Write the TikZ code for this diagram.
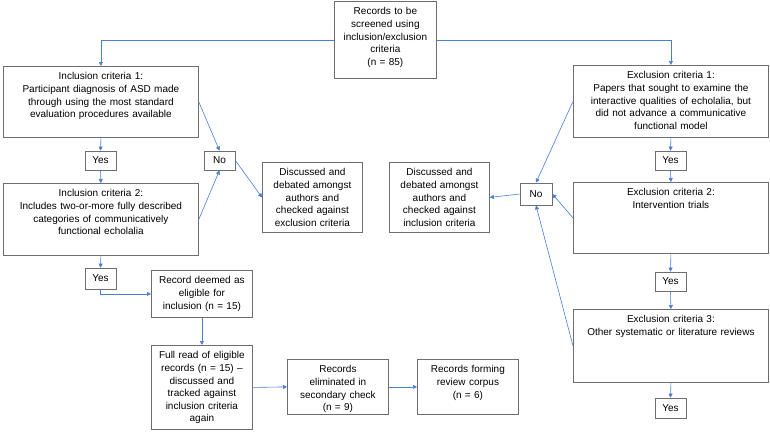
\documentclass[tikz,border=0pt]{standalone}
\usepackage{fontspec}
\setmainfont{Liberation Sans}
\usetikzlibrary{arrows.meta}

\definecolor{flowblue}{HTML}{4A7DD6}
\definecolor{boxgrey}{HTML}{6E6E6E}
\newcommand{\widetext}{189pt}
\newcommand{\smalltext}{95pt}

\begin{document}
\begin{tikzpicture}[x=1pt, y=-1pt,
    font=\fontsize{10}{12.6}\selectfont,
    box/.style={draw=boxgrey, line width=0.8pt, anchor=north west,
      align=center, inner sep=3pt, text height=10.5pt},
    answer/.style={draw=boxgrey, line width=0.8pt, minimum width=31pt,
      minimum height=19pt, inner sep=0pt},
    flow/.style={draw=flowblue, line width=0.6pt,
      -{Triangle[length=4pt,width=4pt]}}]
  \useasboundingbox (0,0) rectangle (770,432);

  % screening
  \node[box, text width=96pt, text depth=60.5pt] (screen) at (334,1)
    {Records to be\\screened using\\inclusion/exclusion\\criteria\\(n = 85)};

  % inclusion side
  \node[box, text width=\widetext, text depth=54.5pt] (inc1) at (3,66)
    {Inclusion criteria 1:\\Participant diagnosis of ASD made\\through using the most standard\\evaluation procedures available};
  \node[answer] (yes1) at (100.5,160.5) {Yes};
  \node[answer] (no1) at (219.5,160.5) {No};
  \node[box, text width=\widetext, text depth=55.5pt] (inc2) at (3,183)
    {Inclusion criteria 2:\\Includes two-or-more fully described\\categories of communicatively\\functional echolalia};
  \node[box, text width=94pt, text depth=53.5pt] (disc1) at (262,162)
    {Discussed and\\debated amongst\\authors and\\checked against\\exclusion criteria};
  \node[answer, minimum height=21pt] (yes2) at (100.5,278.5) {Yes};
  \node[box, text width=\smalltext, text depth=30.5pt] (deemed) at (151,270)
    {Record deemed as\\eligible for\\inclusion (n = 15)};
  \node[box, text width=\smalltext, text depth=67.5pt] (fullread) at (151,345)
    {Full read of eligible\\records (n = 15) –\\discussed and\\tracked against\\inclusion criteria\\again};
  \node[box, text width=\smalltext, text depth=38.5pt] (elim) at (287,359)
    {Records\\eliminated in\\secondary check\\(n = 9)};
  \node[box, text width=\smalltext, text depth=38.5pt] (corpus) at (417,359)
    {Records forming\\review corpus\\(n = 6)};

  % exclusion side
  \node[box, text width=\widetext, text depth=55.5pt] (exc1) at (573,65)
    {Exclusion criteria 1:\\Papers that sought to examine the\\interactive qualities of echolalia, but\\did not advance a communicative\\functional model};
  \node[answer] (yes3) at (670.5,160.5) {Yes};
  \node[box, text width=\widetext, text depth=54.5pt] (exc2) at (573,182)
    {Exclusion criteria 2:\\Intervention trials};
  \node[answer] (yes4) at (670.5,281.5) {Yes};
  \node[box, text width=\widetext, text depth=56.5pt] (exc3) at (573,309)
    {Exclusion criteria 3:\\Other systematic or literature reviews};
  \node[answer, minimum height=20pt] (yes5) at (670.5,408) {Yes};
  \node[answer, minimum width=32pt, minimum height=22pt] (no2) at (536,194) {No};
  \node[box, text width=94pt, text depth=53.5pt] (disc2) at (389,162)
    {Discussed and\\debated amongst\\authors and\\checked against\\inclusion criteria};

  \draw[flow] (screen.west) -| (inc1.north);
  \draw[flow] (screen.east) -| (exc1.north);

  \foreach \from/\to in {inc1/yes1, yes1/inc2, inc2/yes2, deemed/fullread,
      exc1/yes3, yes3/exc2, exc2/yes4, yes4/exc3, exc3/yes5}
    \draw[flow] (\from.south) -- (\to.north);

  \draw[flow] (inc1.east) -- (no1.north);
  \draw[flow] (inc2.east) -- (no1.south);
  \draw[flow] (no1.east) -- (disc1.west);
  \draw[flow] (yes2.south) |- (deemed.west);
  \draw[flow] (fullread.east) -- (elim.west);
  \draw[flow] (elim.east) -- (corpus.west);

  \draw[flow] (exc1.west) -- (no2.north);
  \draw[flow] (exc2.west) -- (no2.east);
  \draw[flow] (exc3.west) -- (no2.south);
  \draw[flow] (no2.west) -- (disc2.east);
\end{tikzpicture}
\end{document}
